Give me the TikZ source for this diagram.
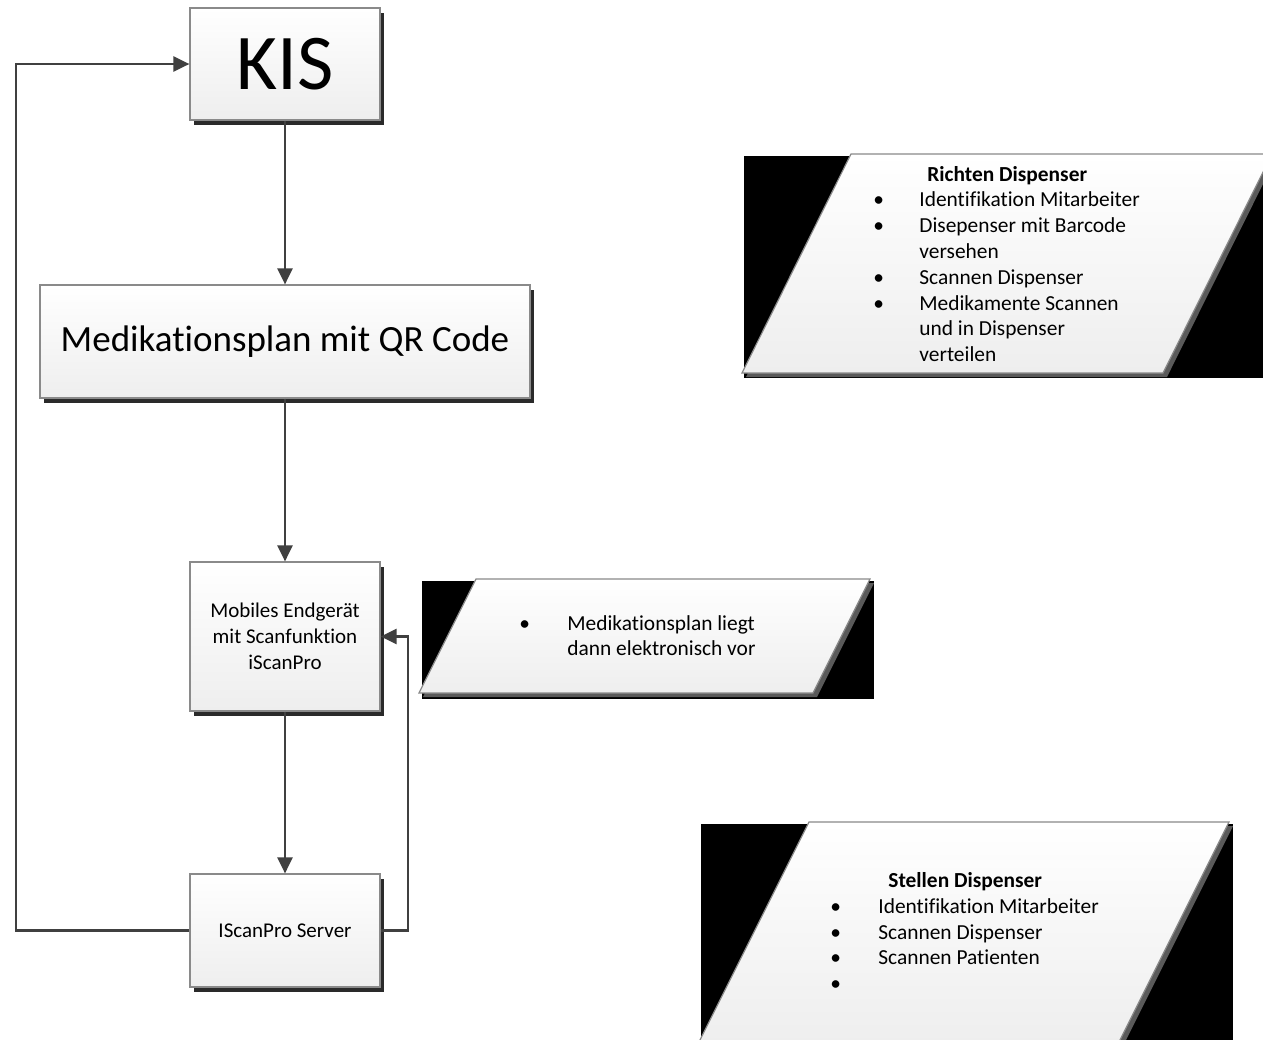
\documentclass[tikz,border=0pt]{standalone}
\usepackage{fontspec}
\setmainfont{Carlito}[Ligatures=NoCommon]
\usetikzlibrary{arrows.meta,shadows,calc}
\definecolor{linec}{HTML}{404040}
\definecolor{shc}{HTML}{2A2A2A}
\definecolor{bordc}{HTML}{8A8A8A}
\definecolor{botc}{HTML}{EEEEEE}
\definecolor{pshc}{HTML}{5A5A5A}
\begin{document}
\begin{tikzpicture}[x=0.5pt,y=-0.5pt,
 box/.style={draw=bordc, line width=0.6pt, top color=white, bottom color=botc, inner sep=0pt, align=center,
   font=\fontsize{10.5}{13}\selectfont,
   drop shadow={shadow xshift=2pt, shadow yshift=-2.5pt, fill=shc, opacity=1}},
 conn/.style={draw=linec, line width=1.3pt, -{Triangle[length=8pt,width=7.5pt]}},
 plg/.style={draw=bordc, line width=0.6pt, top color=white, bottom color=botc},
 ptext/.style={anchor=base west, inner sep=0pt, font=\fontsize{10.7}{12.9}\selectfont}
]
\useasboundingbox (0,0) rectangle (1263,1039);
\clip (0,0) rectangle (1263,1039);
\fill[white] (0,0) rectangle (1263,1039);

% boxes
\node[box, minimum width=95pt, minimum height=56pt, font=\fontsize{39.5}{45}\selectfont] (kis) at (285,64) {KIS};
\node[box, minimum width=245pt, minimum height=56.5pt, font=\fontsize{18.5}{22}\selectfont] (med) at (285,341.5) {Medikationsplan mit QR Code};
\node[box, minimum width=95pt, minimum height=74.5pt] (mob) at (285,636.5) {Mobiles Endgerät\\mit Scanfunktion\\iScanPro};
\node[box, minimum width=95pt, minimum height=56.5pt] (srv) at (285,930.5) {IScanPro Server};

% connectors
\coordinate (lb) at (16,930.5);
\coordinate (rb) at (408,930.5);
\draw[conn] (kis.south) -- (med.north);
\draw[conn] (med.south) -- (mob.north);
\draw[conn] (mob.south) -- (srv.north);
\draw[conn] (srv.west) -- (lb) |- (kis.west);
\draw[conn] (srv.east) -- (rb) |- (mob.east);

% parallelogram 1
\fill[black] (744,156) rectangle (1276,378);
\fill[pshc] (746,377) -- (855,158) -- (1276,158) -- (1167,377) -- cycle;
\path[plg] (742,373) -- (851,154) -- (1272,154) -- (1163,373) -- cycle;
\node[ptext] (rtext) at (873,181) {\begin{tabular}[t]{@{}p{23pt}@{}l@{}}
\multicolumn{2}{@{}l@{}}{\hspace{27pt}\textbf{Richten Dispenser}}\\
\textbullet & Identifikation Mitarbeiter\\
\textbullet & Disepenser mit Barcode\\
 & versehen\\
\textbullet & Scannen Dispenser\\
\textbullet & Medikamente Scannen\\
 & und in Dispenser\\
 & verteilen
\end{tabular}};

% parallelogram 2
\fill[black] (422,581) rectangle (874,699);
\fill[pshc] (423,697) -- (480,583) -- (874,583) -- (817,697) -- cycle;
\path[plg] (419,693) -- (476,579) -- (870,579) -- (813,693) -- cycle;
\node[ptext] (mtext) at (519,630) {\begin{tabular}[t]{@{}p{24pt}@{}l@{}}
\textbullet & Medikationsplan liegt\\
 & dann elektronisch vor
\end{tabular}};

% parallelogram 3
\fill[black] (701,824) rectangle (1233,1050);
\fill[pshc] (702,1048) -- (813,826) -- (1233,826) -- (1122,1048) -- cycle;
\path[plg] (698,1044) -- (809,822) -- (1229,822) -- (1118,1044) -- cycle;
\node[ptext] (stext) at (830,887.5) {\begin{tabular}[t]{@{}p{24pt}@{}l@{}}
\multicolumn{2}{@{}l@{}}{\hspace{29pt}\textbf{Stellen Dispenser}}\\
\textbullet & Identifikation Mitarbeiter\\
\textbullet & Scannen Dispenser\\
\textbullet & Scannen Patienten\\
\textbullet &
\end{tabular}};
\end{tikzpicture}
\end{document}
